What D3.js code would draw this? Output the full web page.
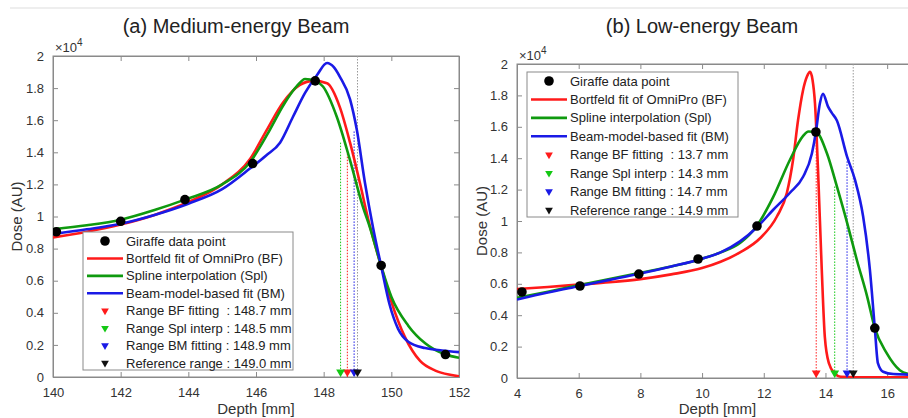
<!DOCTYPE html>
<html>
<head>
<meta charset="utf-8">
<title>Dose vs Depth</title>
<script src="https://cdn.jsdelivr.net/npm/d3@7"></script>
<style>
    body { margin: 0; background: #fff; font-family: Arial, "Liberation Sans", sans-serif; }
    text { fill: #333; }
</style>
</head>
<body>
<svg id="mainsvg" width="908" height="418"></svg>
<script>
    // ---- data (dose in units of 1e4) ----
    const medPoints = [[140.1,0.905],[142.0,0.97],[143.9,1.105],[145.9,1.33],[147.75,1.845],[149.7,0.695],[151.6,0.14]];
    const medBF = [[140,0.87],[141,0.905],[142,0.95],[143,1.01],[144,1.09],[145,1.2],[145.83,1.36],[146.32,1.54],[146.8,1.71],[147.3,1.82],[147.7,1.845],[148.1,1.83],[148.48,1.68],[148.78,1.46],[149.07,1.21],[149.32,0.98],[149.7,0.69],[150,0.47],[150.4,0.25],[150.85,0.1],[151.3,0.04],[151.7,0.015],[152,0.005]];
    const medSpl = [[140,0.92],[141,0.945],[142,0.98],[143,1.04],[143.9,1.105],[145,1.2],[145.83,1.34],[146.41,1.54],[146.8,1.69],[147.2,1.81],[147.45,1.857],[147.75,1.845],[147.98,1.81],[148.39,1.62],[148.78,1.35],[149.16,1.06],[149.37,0.93],[149.7,0.69],[150,0.5],[150.5,0.32],[151,0.21],[151.6,0.14],[152,0.12]];
    const medBM = [[140,0.89],[141,0.92],[142,0.955],[143,1.01],[144,1.08],[145,1.17],[145.83,1.3],[146.3,1.38],[146.71,1.46],[147.09,1.62],[147.45,1.77],[147.8,1.88],[148.1,1.956],[148.3,1.93],[148.48,1.87],[148.78,1.73],[148.98,1.54],[149.22,1.21],[149.46,0.93],[149.7,0.69],[149.95,0.45],[150.2,0.3],[150.5,0.22],[151,0.18],[151.5,0.165],[152,0.155]];
    const medRanges = [148.7, 148.5, 148.9, 149.0];          // BF, Spl, BM, reference
    const medRangeTops = [1.41, 1.46, 1.53, 2.0];
    const medLegend = ['Giraffe data point', 'Bortfeld fit of OmniPro (BF)', 'Spline interpolation (Spl)', 'Beam-model-based fit (BM)',
        'Range BF fitting  : 148.7 mm', 'Range Spl interp : 148.5 mm', 'Range BM fitting : 148.9 mm', 'Reference range : 149.0 mm'];
    const medXTicks = [140, 142, 144, 146, 148, 150, 152];

    const lowPoints = [[4.16,0.548],[6.04,0.586],[7.95,0.662],[9.87,0.758],[11.78,0.968],[13.69,1.567],[15.6,0.318]];
    const lowBF = [[4,0.567],[5,0.58],[6,0.595],[7,0.61],[8,0.63],[9,0.66],[10,0.7],[10.6,0.74],[11.23,0.8],[11.88,0.89],[12.43,1.03],[12.75,1.18],[12.95,1.39],[13.11,1.64],[13.27,1.83],[13.4,1.92],[13.5,1.95],[13.58,1.9],[13.66,1.75],[13.76,1.32],[13.88,0.69],[13.98,0.26],[14.11,0.095],[14.3,0.03],[14.5,0.008],[15,0.005],[17,0.005]];
    const lowSpl = [[4,0.51],[5,0.55],[6,0.59],[7,0.63],[8,0.67],[9,0.71],[10,0.76],[10.6,0.8],[11.23,0.86],[11.78,0.97],[12.3,1.15],[12.85,1.39],[13.27,1.54],[13.45,1.57],[13.69,1.567],[14.05,1.43],[14.37,1.22],[14.7,0.99],[15.02,0.75],[15.35,0.52],[15.6,0.318],[15.98,0.16],[16.41,0.05],[16.8,0.02],[17,0.015]];
    const lowBM = [[4,0.5],[5,0.545],[6,0.585],[7,0.625],[8,0.665],[9,0.71],[10,0.76],[10.6,0.8],[11.23,0.87],[11.78,0.96],[12.3,1.07],[12.85,1.18],[13.27,1.28],[13.56,1.43],[13.69,1.567],[13.82,1.75],[13.92,1.81],[14.08,1.73],[14.2,1.69],[14.37,1.64],[14.7,1.41],[14.96,1.26],[15.22,1.03],[15.44,0.69],[15.6,0.318],[15.7,0.095],[15.87,0.04],[16.2,0.025],[17,0.02]];
    const lowRanges = [13.7, 14.3, 14.7, 14.9];
    const lowRangeTops = [1.56, 1.22, 1.38, 2.0];
    const lowLegend = ['Giraffe data point', 'Bortfeld fit of OmniPro (BF)', 'Spline interpolation (Spl)', 'Beam-model-based fit (BM)',
        'Range BF fitting  : 13.7 mm', 'Range Spl interp : 14.3 mm', 'Range BM fitting : 14.7 mm', 'Reference range : 14.9 mm'];
    const lowXTicks = [4, 6, 8, 10, 12, 14, 16];

    const yTicks = [0, 0.2, 0.4, 0.6, 0.8, 1, 1.2, 1.4, 1.6, 1.8, 2];

    const curveColors = ['#ff1a1a', '#0f9a0f', '#1a1ae6'];
    const markerColors = ['#ff1a1a', '#14c814', '#1a1ae6', '#111'];

    const svg = d3.select('#mainsvg');

    // thin rule across top
    svg.append('line').attr('x1', 10).attr('x2', 908).attr('y1', 8).attr('y2', 8)
        .attr('stroke', '#ddd').attr('stroke-width', 1);

    function drawPanel(cfg) {
        const x = d3.scaleLinear().domain(cfg.xDomain).range([cfg.left, cfg.right]);
        const y = d3.scaleLinear().domain([0, 2]).range([cfg.bottom, cfg.top]);
        const g = svg.append('g');

        const clipId = 'clip' + cfg.id;
        svg.append('clipPath').attr('id', clipId).append('rect')
            .attr('x', cfg.left).attr('y', cfg.top)
            .attr('width', cfg.right - cfg.left).attr('height', cfg.bottom - cfg.top);

        // title
        g.append('text').attr('x', cfg.titleX).attr('y', 33).attr('text-anchor', 'middle')
            .style('font-size', '20px').style('fill', '#222').text(cfg.title);

        // box
        g.append('rect').attr('x', cfg.left).attr('y', cfg.top)
            .attr('width', cfg.right - cfg.left).attr('height', cfg.bottom - cfg.top)
            .attr('fill', 'none').attr('stroke', '#8a8a8a');

        // axes
        const xAxis = g.append('g').attr('transform', `translate(0,${cfg.bottom})`)
            .call(d3.axisBottom(x).tickValues(cfg.xTicks).tickSize(-5).tickPadding(11).tickFormat(d3.format('d')));
        const xTop = g.append('g').attr('transform', `translate(0,${cfg.top})`)
            .call(d3.axisTop(x).tickValues(cfg.xTicks).tickSize(-5).tickFormat(''));
        const yAxis = g.append('g').attr('transform', `translate(${cfg.left},0)`)
            .call(d3.axisLeft(y).tickValues(yTicks).tickSize(-5).tickPadding(9).tickFormat(d3.format('~g')));
        const yRight = g.append('g').attr('transform', `translate(${cfg.right},0)`)
            .call(d3.axisRight(y).tickValues(yTicks).tickSize(-5).tickFormat(''));
        [xAxis, xTop, yAxis, yRight].forEach(a => {
            a.select('.domain').attr('stroke', '#8a8a8a');
            a.selectAll('.tick line').attr('stroke', '#8a8a8a');
            a.selectAll('.tick text').style('font-size', '13px').style('fill', '#333')
                .attr('font-family', 'Arial, "Liberation Sans", sans-serif');
        });

        // axis labels
        g.append('text').attr('x', (cfg.left + cfg.right) / 2).attr('y', 414)
            .attr('text-anchor', 'middle').style('font-size', '15px').text('Depth [mm]');
        g.append('text').attr('transform', `translate(${cfg.yLabelX},${(cfg.top + cfg.bottom) / 2}) rotate(-90)`)
            .attr('text-anchor', 'middle').style('font-size', '15px').text('Dose (AU)');
        const mult = g.append('text').attr('x', cfg.left + 2).attr('y', cfg.top - 4).style('font-size', '13px');
        mult.append('tspan').text('\u00d710');
        mult.append('tspan').attr('dy', -6).style('font-size', '10px').text('4');

        const plot = g.append('g').attr('clip-path', `url(#${clipId})`);

        // reference dotted line (full height) and range dotted lines
        cfg.ranges.forEach((r, i) => {
            plot.append('line')
                .attr('x1', x(r)).attr('x2', x(r))
                .attr('y1', y(cfg.rangeTops[i])).attr('y2', y(0))
                .attr('stroke', i === 3 ? '#999' : markerColors[i])
                .attr('stroke-width', 1).attr('stroke-dasharray', '1.5,1.5');
        });

        // curves
        const line = d3.line().x(d => x(d[0])).y(d => y(d[1])).curve(d3.curveMonotoneX);
        cfg.curves.forEach((c, i) => {
            plot.append('path').datum(c).attr('d', line)
                .attr('fill', 'none').attr('stroke', curveColors[i])
                .attr('stroke-width', 2.6).attr('stroke-linejoin', 'round');
        });

        // data points
        plot.selectAll('circle.pt').data(cfg.points).enter().append('circle')
            .attr('class', 'pt')
            .attr('cx', d => x(d[0])).attr('cy', d => y(d[1])).attr('r', 4.8).attr('fill', '#000');

        // range markers
        const tri = d3.symbol().type(d3.symbolTriangle).size(34);
        cfg.ranges.forEach((r, i) => {
            g.append('path').attr('d', tri)
                .attr('transform', `translate(${x(r)},${cfg.bottom - 5}) rotate(180)`)
                .attr('fill', markerColors[i]);
        });

        // legend
        const lg = g.append('g');
        lg.append('rect').attr('x', cfg.legend.x).attr('y', cfg.legend.y)
            .attr('width', cfg.legend.w).attr('height', cfg.legend.h)
            .attr('fill', '#fff').attr('stroke', '#8a8a8a');
        const rowH = (cfg.legend.h - 16) / 7;
        cfg.legendLabels.forEach((lab, i) => {
            const cy = cfg.legend.y + 9 + i * rowH;
            const sx = cfg.legend.x + 4;
            if (i === 0) {
                lg.append('circle').attr('cx', sx + 18).attr('cy', cy).attr('r', 4.8).attr('fill', '#000');
            } else if (i <= 3) {
                lg.append('line').attr('x1', sx).attr('x2', sx + 36).attr('y1', cy).attr('y2', cy)
                    .attr('stroke', curveColors[i - 1]).attr('stroke-width', 2.6);
            } else {
                lg.append('path').attr('d', d3.symbol().type(d3.symbolTriangle).size(26))
                    .attr('transform', `translate(${sx + 18},${cy}) rotate(180)`)
                    .attr('fill', markerColors[i - 4]);
            }
            lg.append('text').attr('x', sx + 39).attr('y', cy + 4.6)
                .style('font-size', '13px').style('fill', '#222')
                .style('white-space', 'pre').attr('xml:space', 'preserve').text(lab);
        });
    }

    drawPanel({
        id: 'a', title: '(a) Medium-energy Beam', titleX: 236,
        left: 53, right: 459, top: 56, bottom: 377, yLabelX: 22,
        xDomain: [140, 152], xTicks: medXTicks,
        curves: [medBF, medSpl, medBM], points: medPoints,
        ranges: medRanges, rangeTops: medRangeTops,
        legend: { x: 83, y: 232, w: 210, h: 138 }, legendLabels: medLegend
    });

    drawPanel({
        id: 'b', title: '(b) Low-energy Beam', titleX: 702,
        left: 517, right: 918, top: 64, bottom: 378, yLabelX: 487,
        xDomain: [4, 17], xTicks: lowXTicks,
        curves: [lowBF, lowSpl, lowBM], points: lowPoints,
        ranges: lowRanges, rangeTops: lowRangeTops,
        legend: { x: 527, y: 72, w: 211, h: 145 }, legendLabels: lowLegend
    });
</script>
</body>
</html>
